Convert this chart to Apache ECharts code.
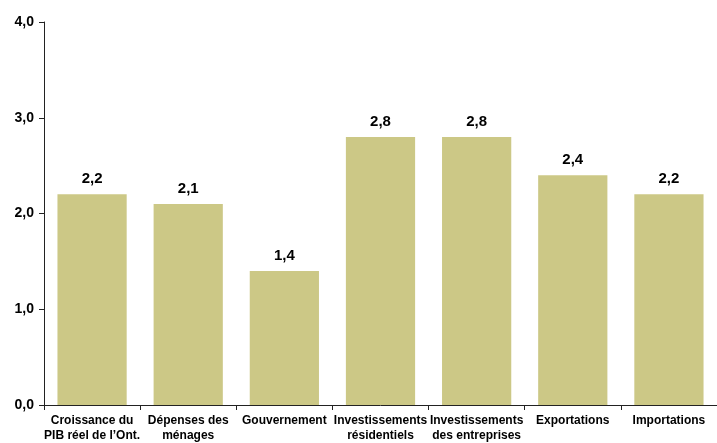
<!DOCTYPE html>
<html><head><meta charset="utf-8">
<script src="https://cdn.jsdelivr.net/npm/echarts@6/dist/echarts.min.js"></script>
<style>html,body{margin:0;padding:0;background:#fff}#c{width:717px;height:443px}</style>
</head><body><div id="c"></div>
<script>
const categories = ["Croissance du\nPIB réel de l’Ont.", "Dépenses des\nménages", "Gouvernement", "Investissements\nrésidentiels", "Investissements\ndes entreprises", "Exportations", "Importations"];
const values = [2.2, 2.1, 1.4, 2.8, 2.8, 2.4, 2.2];
const yTicks = [0, 1, 2, 3, 4];
const fmt = v => v.toFixed(1).replace('.', ',');
const chart = echarts.init(document.getElementById('c'));
chart.setOption({
  animation: false,
  grid: {left: 44, width: 677, top: 22, height: 386, containLabel: false},
  xAxis: {
    type: 'category', data: categories,
    axisLine: {lineStyle: {color: '#222', width: 1}},
    axisTick: {show: true, length: 5, alignWithLabel: false, lineStyle: {color: '#222'}},
    axisLabel: {interval: 0, color: '#000', fontFamily: 'Liberation Sans, Arial', fontWeight: 'bold', fontSize: 12, lineHeight: 15, margin: 8}
  },
  yAxis: {
    type: 'value', min: yTicks[0], max: yTicks[yTicks.length - 1], interval: 1,
    splitLine: {show: false},
    axisLine: {show: true, lineStyle: {color: '#222', width: 1}},
    axisTick: {show: true, inside: false, length: 5, lineStyle: {color: '#222'}},
    axisLabel: {formatter: fmt, color: '#000', fontFamily: 'Liberation Sans, Arial', fontWeight: 'bold', fontSize: 14, margin: 10}
  },
  series: [{
    type: 'bar', data: values, barWidth: '72%',
    itemStyle: {color: '#CCC886'},
    label: {show: true, position: 'top', distance: 8, formatter: p => fmt(p.value), color: '#000', fontFamily: 'Liberation Sans, Arial', fontWeight: 'bold', fontSize: 15}
  }]
});
</script></body></html>
